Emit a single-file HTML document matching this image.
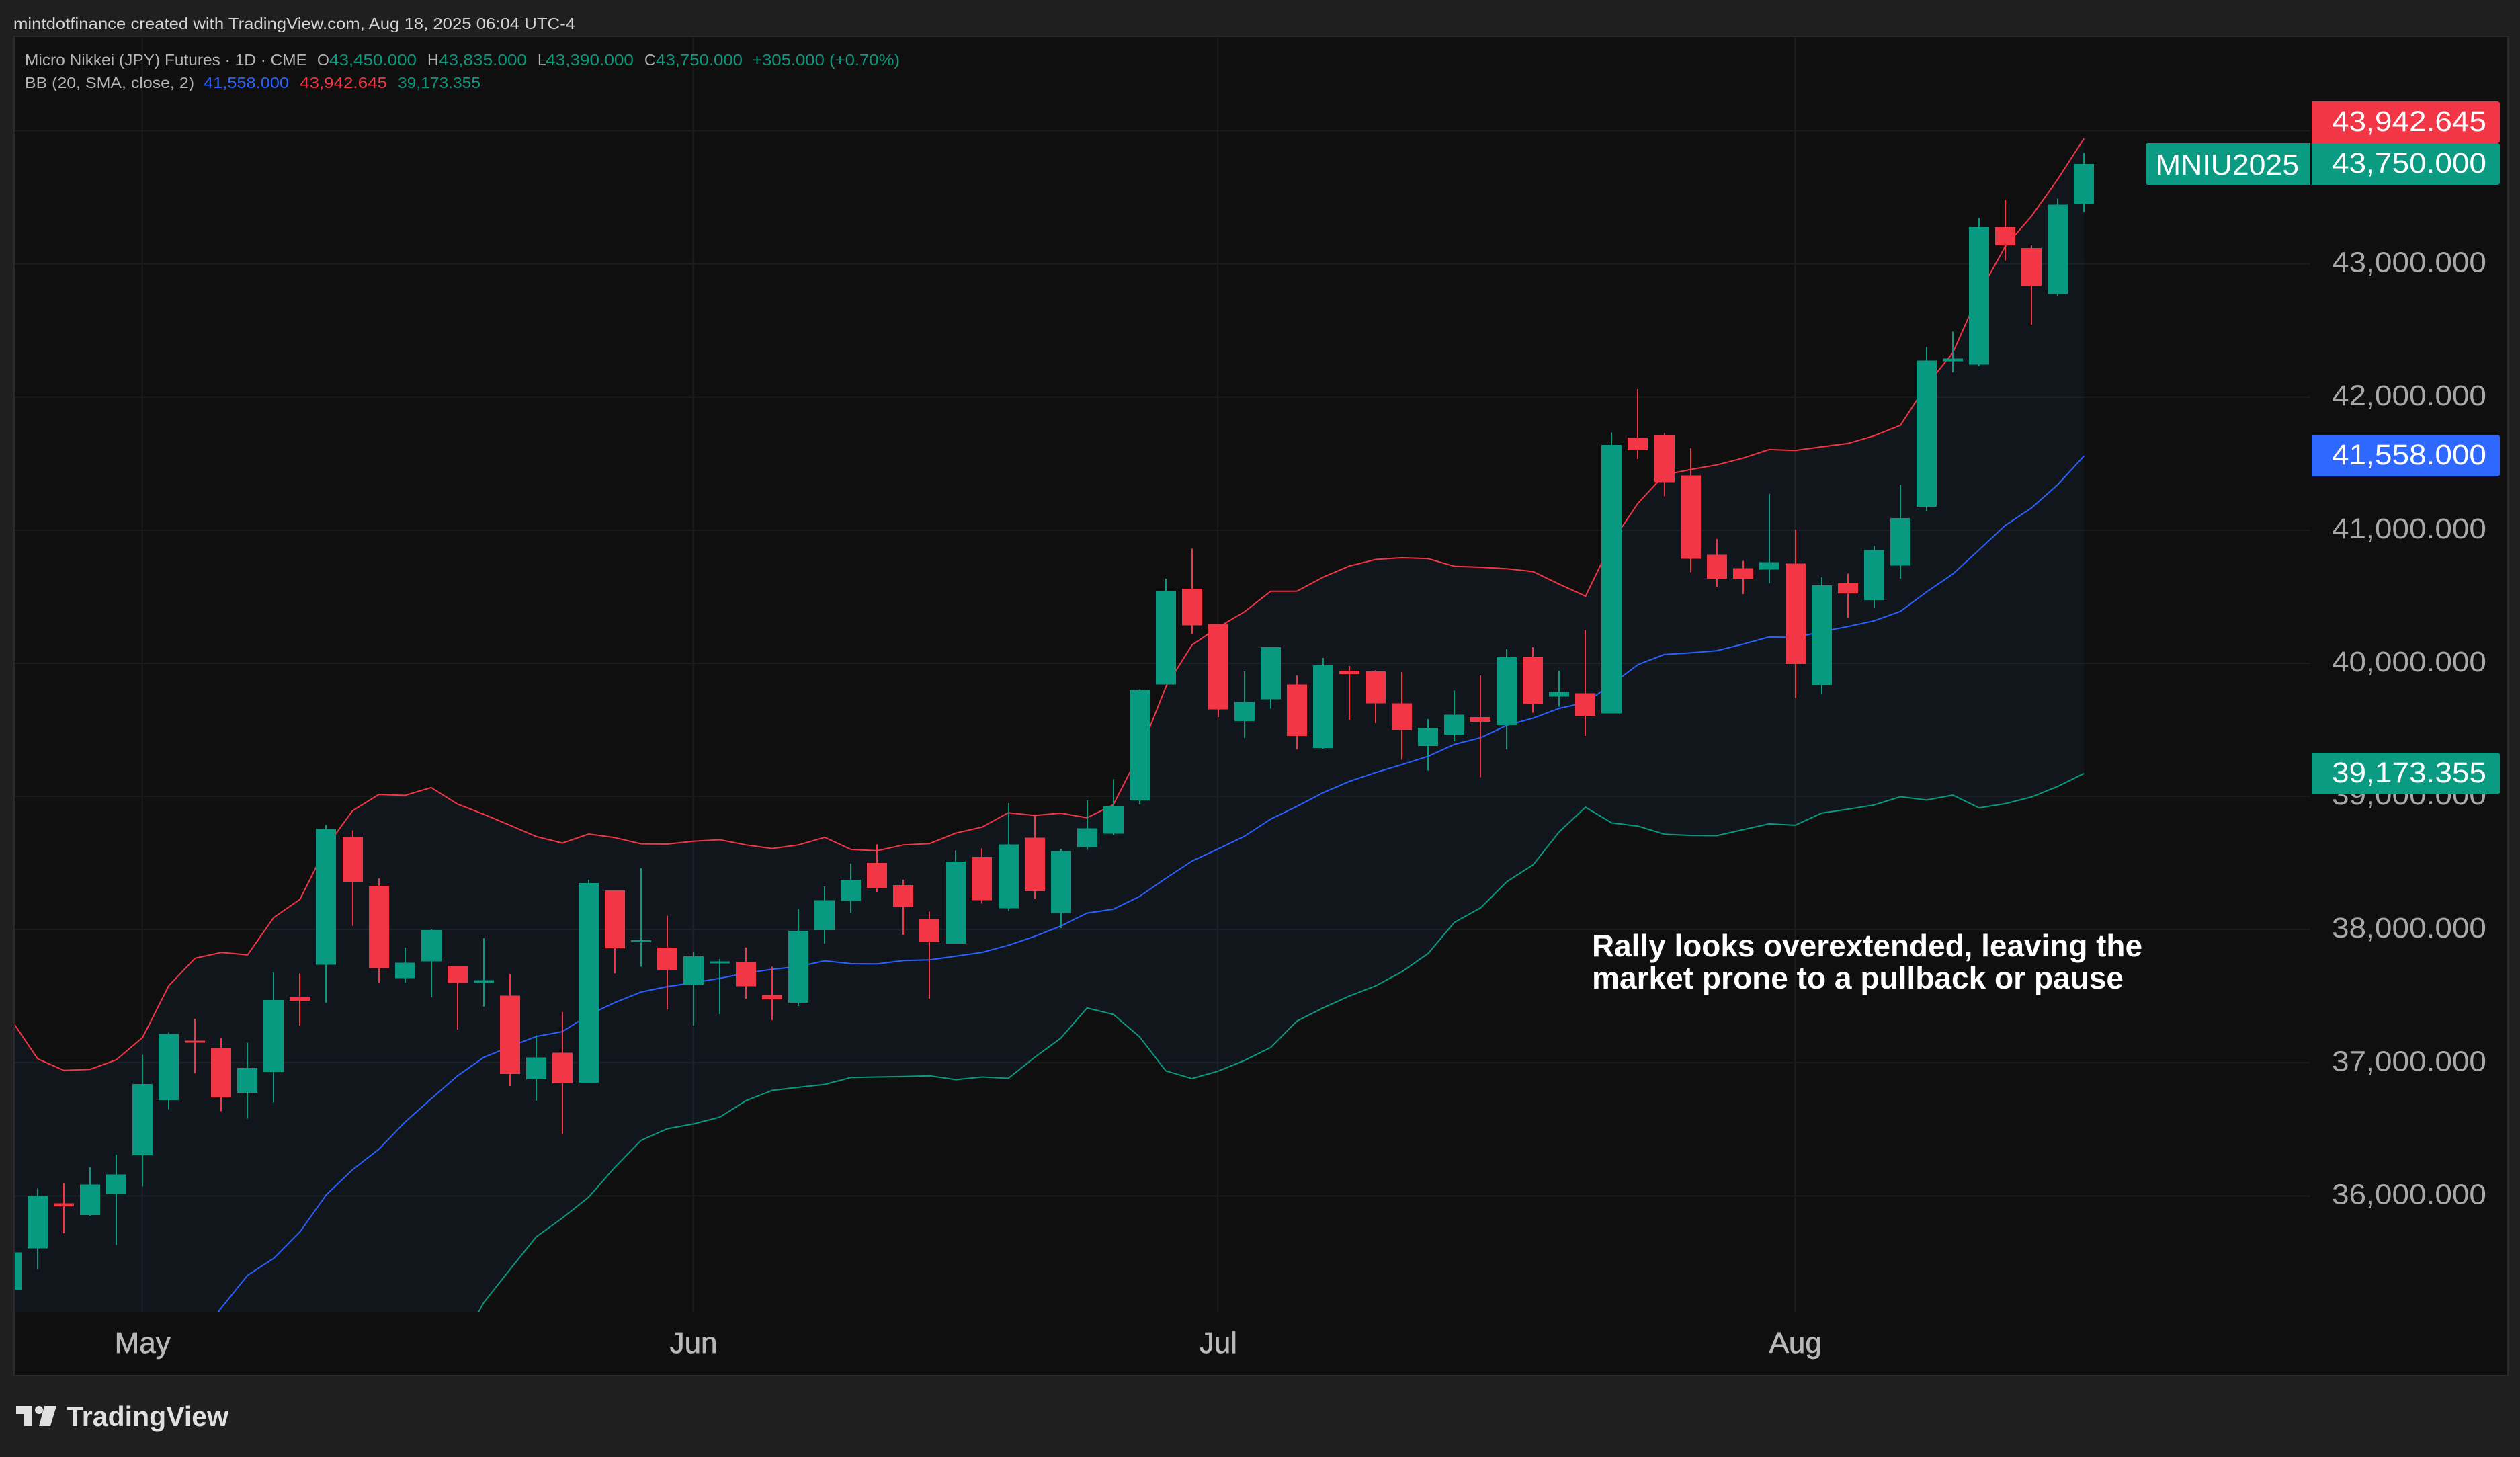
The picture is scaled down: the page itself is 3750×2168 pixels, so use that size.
<!DOCTYPE html>
<html lang="en">
<head>
<meta charset="utf-8">
<title>Micro Nikkei (JPY) Futures chart</title>
<style>
  html,body{margin:0;padding:0;background:#1f1f1f;width:3750px;height:2168px;overflow:hidden}
  svg{display:block;font-family:"Liberation Sans",sans-serif}
</style>
</head>
<body>
<svg id="chart" xmlns="http://www.w3.org/2000/svg" width="3750" height="2168" viewBox="0 0 3750 2168">
  <defs>
    <clipPath id="pane-clip"><rect x="22" y="55" width="3416" height="1897"/></clipPath>
  </defs>
  <rect x="0" y="0" width="3750" height="2168" fill="#1f1f1f"/>
  <text x="20" y="43" font-size="23" fill="#d4d4d4" textLength="836" lengthAdjust="spacingAndGlyphs">mintdotfinance created with TradingView.com, Aug 18, 2025 06:04 UTC-4</text>
  <rect x="21" y="54" width="3711" height="1993" fill="#0f0f0f" stroke="#2a2a2a" stroke-width="2"/>

  <g id="grid"></g>
  <g clip-path="url(#pane-clip)">
    <polygon id="band-fill" fill="#3084ff" fill-opacity="0.06"></polygon>
    <polyline id="upper-line" fill="none" stroke="#f23645" stroke-width="2"></polyline>
    <polyline id="middle-line" fill="none" stroke="#2962ff" stroke-width="2"></polyline>
    <polyline id="lower-line" fill="none" stroke="#089981" stroke-width="2"></polyline>
    <g id="candles"></g>
  </g>

  <g font-size="23">
    <text x="37" y="97" fill="#b4b4b4" textLength="420" lengthAdjust="spacingAndGlyphs">Micro Nikkei (JPY) Futures · 1D · CME</text>
    <text x="472" y="97" fill="#b4b4b4">O</text>
    <text x="490" y="97" fill="#089981" textLength="130" lengthAdjust="spacingAndGlyphs">43,450.000</text>
    <text x="636" y="97" fill="#b4b4b4">H</text>
    <text x="653" y="97" fill="#089981" textLength="131" lengthAdjust="spacingAndGlyphs">43,835.000</text>
    <text x="800" y="97" fill="#b4b4b4">L</text>
    <text x="812" y="97" fill="#089981" textLength="131" lengthAdjust="spacingAndGlyphs">43,390.000</text>
    <text x="959" y="97" fill="#b4b4b4">C</text>
    <text x="976" y="97" fill="#089981" textLength="129" lengthAdjust="spacingAndGlyphs">43,750.000</text>
    <text x="1119" y="97" fill="#089981" textLength="220" lengthAdjust="spacingAndGlyphs">+305.000 (+0.70%)</text>
    <text x="37" y="131" fill="#b4b4b4" textLength="252" lengthAdjust="spacingAndGlyphs">BB (20, SMA, close, 2)</text>
    <text x="303" y="131" fill="#2962ff" textLength="127" lengthAdjust="spacingAndGlyphs">41,558.000</text>
    <text x="446" y="131" fill="#f23645" textLength="130" lengthAdjust="spacingAndGlyphs">43,942.645</text>
    <text x="592" y="131" fill="#089981" textLength="123" lengthAdjust="spacingAndGlyphs">39,173.355</text>
  </g>

  <g id="price-axis"></g>
  <g id="time-axis"></g>
  <g id="last-values"></g>

  <g font-size="46" font-weight="700" fill="#ffffff">
    <text x="2369" y="1423" textLength="819" lengthAdjust="spacingAndGlyphs">Rally looks overextended, leaving the</text>
    <text x="2369" y="1471" textLength="791" lengthAdjust="spacingAndGlyphs">market prone to a pullback or pause</text>
  </g>

  <g fill="#e0e0e0">
    <polygon points="24,2092 48,2092 48,2122 36,2122 36,2104 24,2104"/>
    <circle cx="58" cy="2098" r="6"/>
    <polygon points="66,2092 84,2092 75,2122 58,2122"/>
    <text x="99" y="2122" font-size="42" font-weight="700" textLength="241" lengthAdjust="spacingAndGlyphs">TradingView</text>
  </g>
</svg>

<script>
const opens = [35295,35605,35945,35855,36015,36305,36720,37165,37110,36775,
  36930,37495,37735,38695,38330,37635,37760,37725,37600,37505,
  36875,37075,36850,38295,37910,37865,37585,37750,37755,37510,
  37450,37995,38215,38500,38335,38080,37895,38545,38160,38690,
  38125,38620,38720,38970,39840,40560,40295,39565,39730,39840,
  39365,39945,39940,39700,39380,39465,39595,39535,40050,39750,
  39775,39625,41695,41710,41410,40815,40715,40705,40750,39835,
  40600,40475,40735,41175,42270,42245,43275,43120,42775,43450];
const highs = [35700,36055,36095,36215,36310,37060,37225,37330,37185,37150,
  37680,37670,38785,38745,38385,37865,38000,37725,37935,37665,
  37205,37380,38375,38295,38460,38105,37835,37780,37865,37720,
  38155,38325,38495,38640,38375,38135,38595,38610,38950,38855,
  38605,38970,39130,39805,40635,40860,40295,39940,40120,39910,
  40040,39980,39950,39935,39580,39795,39910,40105,40120,39945,
  40250,41735,42060,41730,41615,40935,40770,41275,41005,40645,
  40675,40880,41340,42375,42490,43345,43480,43140,43490,43835];
const lows = [35100,35450,35720,35850,35630,36070,36650,36920,36635,36580,
  36700,37280,37450,38030,37600,37600,37490,37250,37420,36825,
  36715,36465,36850,37670,37720,37400,37280,37365,37480,37320,
  37425,37895,38125,38280,37960,37480,37895,38195,38140,38230,
  38010,38600,38710,38940,39840,40220,39595,39440,39660,39355,
  39360,39575,39550,39275,39195,39415,39145,39355,39630,39675,
  39455,39625,41535,41255,40685,40575,40520,40600,39740,39770,
  40340,40420,40635,41145,42185,42230,43025,42545,42760,43390];
const closes = [35575,36000,35920,36085,36160,36840,37215,37160,36740,36960,
  37470,37465,38755,38360,37710,37750,37995,37600,37620,36915,
  37040,36845,38350,37860,37920,37695,37800,37760,37575,37475,
  37990,38220,38375,38310,38170,37905,38510,38220,38640,38290,
  38590,38760,38925,39800,40545,40285,39655,39710,40120,39455,
  39985,39920,39700,39500,39515,39615,39560,40045,39695,39785,
  39605,41640,41600,41360,40785,40635,40635,40760,39995,40585,
  40525,40850,41090,42275,42290,43275,43140,42835,43445,43750];
const upperBand = [37321,37030,36942,36950,37022,37190,37579,37785,37828,37810,
  38091,38227,38621,38892,39015,39008,39067,38943,38866,38784,
  38699,38650,38718,38691,38644,38642,38664,38675,38636,38609,
  38636,38693,38602,38592,38636,38646,38725,38770,38878,38857,
  38875,38840,38938,39323,39823,40138,40270,40387,40541,40542,
  40647,40731,40780,40793,40786,40729,40722,40711,40689,40594,
  40505,40910,41203,41415,41456,41490,41541,41606,41599,41626,
  41651,41709,41788,42090,42332,42778,43131,43359,43636,43942.645];
const middleBand = [33613,33742,33870,34025,34205,34411,34643,34900,35158,35403,
  35531,35730,36008,36196,36350,36554,36729,36901,37040,37120,
  37197,37233,37359,37452,37531,37572,37601,37634,37673,37702,
  37723,37766,37744,37742,37768,37773,37800,37829,37882,37949,
  38027,38124,38153,38249,38385,38515,38606,38701,38830,38926,
  39029,39113,39180,39239,39302,39391,39441,39534,39588,39662,
  39706,39842,39990,40066,40079,40095,40144,40198,40194,40238,
  40276,40319,40390,40536,40671,40852,41036,41167,41342,41558];
const lowerBand = [29905,30454,30798,31100,31388,31632,31707,32015,32488,32996,
  32971,33233,33395,33500,33685,34100,34391,34830,35197,35446,
  35691,35833,35990,36214,36417,36504,36540,36591,36715,36792,
  36815,36837,36889,36893,36897,36902,36873,36893,36883,37040,
  37185,37411,37363,37195,36939,36881,36937,37017,37114,37313,
  37412,37501,37577,37683,37821,38054,38163,38360,38486,38735,
  38919,38801,38777,38717,38707,38705,38750,38794,38784,38875,
  38904,38936,38998,38973,39010,38914,38946,38996,39075,39173.355];
const priceTicks = [44000,43000,42000,41000,40000,39000,38000,37000,36000];
const priceTickLabels = ["44,000.000","43,000.000","42,000.000","41,000.000","40,000.000","39,000.000","38,000.000","37,000.000","36,000.000"];
const monthLabels = ["May","Jun","Jul","Aug"];
const monthSessions = [5,26,46,68];
const lastValueLabels = ["43,942.645","43,750.000","41,558.000","39,173.355"];
const symbolLabel = "MNIU2025";

const SVG_NS = "http://www.w3.org/2000/svg";
const UP = "#089981", DOWN = "#f23645", BLUE = "#2962ff";
const LABEL_W = 230, BOX_H = 62;
const OFF_PANE_Y = 2100;

function xScale(i){ return 17 + 39.04 * i; }
function yScale(p){ return 194.6 + (44000 - p) * 0.1981; }
function yBand(p){ return Math.min(yScale(p), OFF_PANE_Y); }
function make(tag, attrs, parent){
  const el = document.createElementNS(SVG_NS, tag);
  for (const k in attrs) el.setAttribute(k, attrs[k]);
  parent.appendChild(el);
  return el;
}
function points(arr){ return arr.map((v,i)=>xScale(i).toFixed(1)+","+yBand(v).toFixed(1)).join(" "); }

/* grid */
const grid = document.getElementById("grid");
priceTicks.forEach(function(p){
  const y = yScale(p);
  const line = make("line",{x1:22,x2:3438,y1:y,y2:y,stroke:"#1c1c1c","stroke-width":2},grid);
  
  
});
monthSessions.forEach(function(s){
  const x = xScale(s) - 0.6;
  const line = make("line",{x1:x,x2:x,y1:55,y2:1952,stroke:"#1c1c1c","stroke-width":2},grid);
  
  
});

/* bands */
document.getElementById("upper-line").setAttribute("points", points(upperBand));
document.getElementById("middle-line").setAttribute("points", points(middleBand));
document.getElementById("lower-line").setAttribute("points", points(lowerBand));
const lowerRev = lowerBand.map((v,i)=>xScale(i).toFixed(1)+","+yBand(v).toFixed(1)).reverse().join(" ");
document.getElementById("band-fill").setAttribute("points", points(upperBand)+" "+lowerRev);

/* candles */
const candles = document.getElementById("candles");
opens.forEach(function(o,i){
  const c = closes[i], color = c >= o ? UP : DOWN;
  const cx = Math.round(xScale(i));
  const top = yScale(Math.max(o,c)), bot = yScale(Math.min(o,c));
  const wick = make("rect",{x:cx-1,y:yScale(highs[i]),width:2,height:Math.max(0,yScale(lows[i])-yScale(highs[i])),fill:color,"shape-rendering":"crispEdges"},candles);
  
  
  const body = make("rect",{x:cx-15,y:top,width:30,height:Math.max(3,bot-top),fill:color,"shape-rendering":"crispEdges"},candles);
  
  
});

/* price axis labels */
const priceAxis = document.getElementById("price-axis");
priceTicks.forEach(function(p,i){
  const t = make("text",{x:3470,y:yScale(p)+12,"font-size":43,fill:"#a8a8a8",textLength:LABEL_W,lengthAdjust:"spacingAndGlyphs"},priceAxis);
  
  
  t.textContent = priceTickLabels[i];
});

/* time axis labels */
const timeAxis = document.getElementById("time-axis");
monthLabels.forEach(function(m,i){
  const t = make("text",{x:xScale(monthSessions[i]),y:2013,"font-size":44,fill:"#b8b8b8",stroke:"#b8b8b8","stroke-width":0.7,"text-anchor":"middle"},timeAxis);
  
  
  t.textContent = m;
});

/* last value labels */
function boxPath(x,y,w,h,rl,rr){
  return "M"+(x+rl)+" "+y+"H"+(x+w-rr)+"Q"+(x+w)+" "+y+" "+(x+w)+" "+(y+rr)+"V"+(y+h-rr)+"Q"+(x+w)+" "+(y+h)+" "+(x+w-rr)+" "+(y+h)+"H"+(x+rl)+"Q"+x+" "+(y+h)+" "+x+" "+(y+h-rl)+"V"+(y+rl)+"Q"+x+" "+y+" "+(x+rl)+" "+y+"Z";
}
const lastGroup = document.getElementById("last-values");
const lastClose = closes[closes.length-1];
const closeCenter = yScale(lastClose);
const upperRaw = yScale(upperBand[upperBand.length-1]);
const upperCenter = Math.min(upperRaw, closeCenter - BOX_H);
const lastCenters = [upperCenter, closeCenter, yScale(middleBand[middleBand.length-1]), yScale(lowerBand[lowerBand.length-1])];
const lastColors = [DOWN, "#0a9b82", "#2f68ff", "#0a9b82"];
lastCenters.forEach(function(cy,i){
  const box = make("path",{d:boxPath(3440,Math.round(cy-31),280,BOX_H,0,4),fill:lastColors[i]},lastGroup);
  
  
  const t = make("text",{x:3470,y:Math.round(cy)+13,"font-size":43,fill:"#ffffff",textLength:LABEL_W,lengthAdjust:"spacingAndGlyphs"},lastGroup);
  
  
  t.textContent = lastValueLabels[i];
});
const symBox = make("path",{d:boxPath(3193,Math.round(closeCenter-31),245,BOX_H,4,0),fill:"#0a9b82"},lastGroup);


const symText = make("text",{x:3208,y:Math.round(closeCenter)+16,"font-size":44,fill:"#ffffff",textLength:213,lengthAdjust:"spacingAndGlyphs"},lastGroup);


symText.textContent = symbolLabel;
</script>
</body>
</html>
